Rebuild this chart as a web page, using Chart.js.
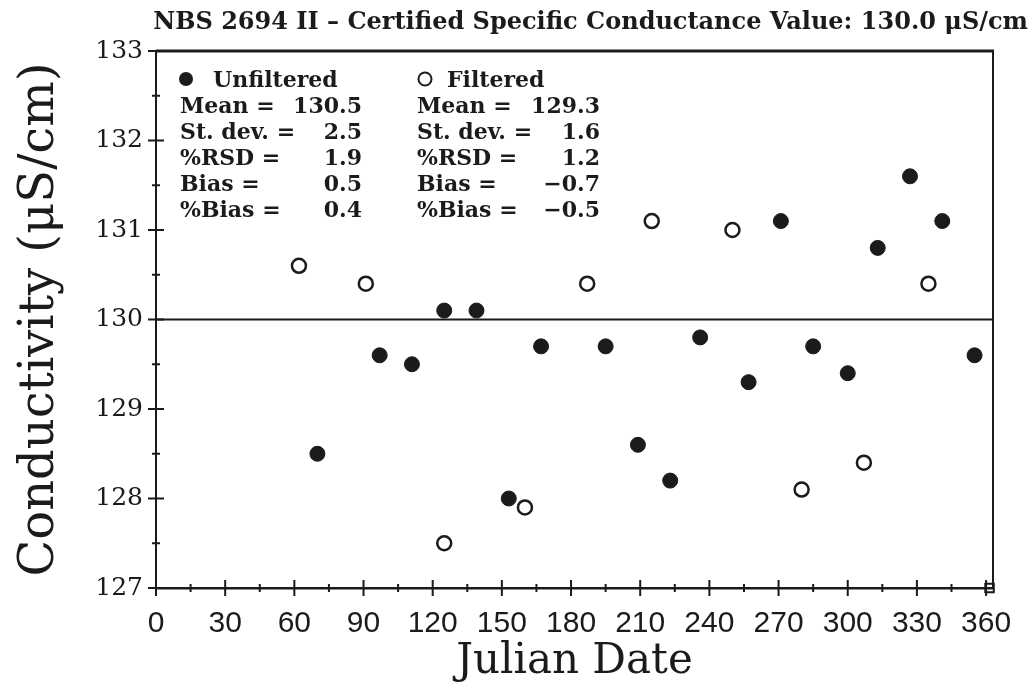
<!DOCTYPE html>
<html>
<head>
<meta charset="utf-8">
<script src="https://cdn.jsdelivr.net/npm/chart.js@4.4.1/dist/chart.umd.min.js"></script>
<style>
    html, body { margin: 0; padding: 0; background: #fff; }
    #wrap { width: 1032px; height: 690px; }
</style>
</head>
<body>
<div id="wrap"><canvas id="chart" width="1032" height="690"></canvas></div>
<script>
// Readings taken off the plot: Julian date vs. conductivity (uS/cm)
const unfilteredDays = [70, 97, 111, 125, 139, 153, 167, 195, 209, 223, 236, 257, 271, 285, 300, 313, 327, 341, 355];
const unfilteredValues = [128.5, 129.6, 129.5, 130.1, 130.1, 128.0, 129.7, 129.7, 128.6, 128.2, 129.8, 129.3, 131.1, 129.7, 129.4, 130.8, 131.6, 131.1, 129.6];

const filteredDays = [62, 91, 125, 160, 187, 215, 250, 280, 307, 335];
const filteredValues = [130.6, 130.4, 127.5, 127.9, 130.4, 131.1, 131.0, 128.1, 128.4, 130.4];

// stray square marker sitting in the lower right corner
const endMarkerDays = [361.5];
const endMarkerValues = [127];

const certifiedValue = 130.0;

const xTicks = [0, 30, 60, 90, 120, 150, 180, 210, 240, 270, 300, 330, 360];
const xMax = 363; // the box runs a little past the last tick
const yTicks = [127, 128, 129, 130, 131, 132, 133];

const unfilteredStats = [['Mean =', '130.5'], ['St. dev. =', '2.5'], ['%RSD =', '1.9'], ['Bias =', '0.5'], ['%Bias =', '0.4']];
const filteredStats = [['Mean =', '129.3'], ['St. dev. =', '1.6'], ['%RSD =', '1.2'], ['Bias =', '\u22120.7'], ['%Bias =', '\u22120.5']];

const chartTitle = 'NBS 2694 II \u2013 Certified Specific Conductance Value: 130.0 \u03bcS/cm';

const INK = '#1b1b1b';
const SERIF = '"DejaVu Serif", "Liberation Serif", serif';
const SANS = '"Liberation Sans", Arial, sans-serif';

function toPoints(xs, ys) {
    return xs.map((x, i) => ({ x: x, y: ys[i] }));
}

// frame, crossing ticks and minor ticks
const frameTicks = {
    id: 'frameTicks',
    afterDraw(chart) {
        const ctx = chart.ctx;
        const area = chart.chartArea;
        const xs = chart.scales.x;
        const ys = chart.scales.y;
        ctx.save();
        ctx.strokeStyle = INK;
        ctx.lineCap = 'butt';

        // top and right of the box
        ctx.lineWidth = 3;
        ctx.beginPath();
        ctx.moveTo(area.left, area.top);
        ctx.lineTo(area.right + 1, area.top);
        ctx.stroke();
        ctx.lineWidth = 2;
        ctx.beginPath();
        ctx.moveTo(area.right, area.top);
        ctx.lineTo(area.right, area.bottom);
        ctx.stroke();

        ctx.lineWidth = 2;
        yTicks.forEach((v, i) => {
            const py = ys.getPixelForValue(v);
            ctx.beginPath();
            ctx.moveTo(area.left - 8, py);
            ctx.lineTo(area.left + 8, py);
            ctx.stroke();
            if (i < yTicks.length - 1) {
                const my = ys.getPixelForValue((v + yTicks[i + 1]) / 2);
                ctx.beginPath();
                ctx.moveTo(area.left - 4, my);
                ctx.lineTo(area.left + 4, my);
                ctx.stroke();
            }
        });
        xTicks.forEach((v, i) => {
            const px = xs.getPixelForValue(v);
            ctx.beginPath();
            ctx.moveTo(px, area.bottom - 8);
            ctx.lineTo(px, area.bottom + 8);
            ctx.stroke();
            if (i < xTicks.length - 1) {
                const mx = xs.getPixelForValue((v + xTicks[i + 1]) / 2);
                ctx.beginPath();
                ctx.moveTo(mx, area.bottom - 4);
                ctx.lineTo(mx, area.bottom + 4);
                ctx.stroke();
            }
        });
        ctx.restore();
    }
};

// the stats block in the upper left + the title line
const statsText = {
    id: 'statsText',
    afterDraw(chart) {
        const ctx = chart.ctx;
        const area = chart.chartArea;
        ctx.save();
        ctx.fillStyle = INK;
        ctx.strokeStyle = INK;
        ctx.textBaseline = 'alphabetic';

        // title
        ctx.font = 'bold 24px ' + SERIF;
        ctx.textAlign = 'right';
        ctx.fillText(chartTitle, chart.width - 4, 29);

        ctx.font = 'bold 22px ' + SERIF;
        const lineH = 26;
        const base = area.top + 36;
        const columns = [
            { x: area.left + 24, valueX: area.left + 206, name: 'Unfiltered', filled: true, rows: unfilteredStats },
            { x: area.left + 261, valueX: area.left + 444, name: 'Filtered', filled: false, rows: filteredStats }
        ];
        columns.forEach(col => {
            ctx.beginPath();
            if (col.filled) {
                ctx.arc(col.x + 6, base - 8, 7, 0, Math.PI * 2);
                ctx.fill();
            } else {
                ctx.arc(col.x + 8, base - 8, 6.5, 0, Math.PI * 2);
                ctx.lineWidth = 2;
                ctx.stroke();
            }
            ctx.textAlign = 'left';
            ctx.fillText(col.name, col.x + (col.filled ? 33 : 30), base);
            col.rows.forEach((row, i) => {
                const y = base + (i + 1) * lineH;
                ctx.textAlign = 'left';
                ctx.fillText(row[0], col.x, y);
                ctx.textAlign = 'right';
                ctx.fillText(row[1], col.valueX, y);
            });
        });
        ctx.restore();
    }
};

const chart = new Chart(document.getElementById('chart'), {
    type: 'scatter',
    data: {
        datasets: [
            {
                type: 'line',
                label: 'Certified value',
                data: [{ x: xTicks[0], y: certifiedValue }, { x: xMax, y: certifiedValue }],
                borderColor: INK,
                borderWidth: 2,
                pointRadius: 0
            },
            {
                label: 'Unfiltered',
                data: toPoints(unfilteredDays, unfilteredValues),
                backgroundColor: INK,
                borderColor: INK,
                borderWidth: 1,
                pointRadius: 7.5
            },
            {
                label: 'Filtered',
                data: toPoints(filteredDays, filteredValues),
                backgroundColor: '#fff',
                borderColor: INK,
                borderWidth: 2.5,
                pointRadius: 7
            },
            {
                label: 'End',
                data: toPoints(endMarkerDays, endMarkerValues),
                pointStyle: 'rect',
                backgroundColor: 'rgba(255,255,255,0)',
                borderColor: INK,
                borderWidth: 2,
                pointRadius: 6,
                clip: false
            }
        ]
    },
    options: {
        responsive: false,
        animation: false,
        devicePixelRatio: 1,
        layout: {
            padding: { top: 51, right: 39, bottom: 0, left: 0 }
        },
        plugins: {
            legend: { display: false },
            tooltip: { enabled: false }
        },
        scales: {
            x: {
                type: 'linear',
                min: xTicks[0],
                max: xMax,
                afterBuildTicks: s => { s.ticks = xTicks.map(v => ({ value: v })); },
                afterFit: s => { s.height = 102; },
                grid: { display: false, drawTicks: false },
                border: { display: true, color: INK, width: 2.5 },
                ticks: {
                    color: INK,
                    padding: 18,
                    maxRotation: 0,
                    autoSkip: false,
                    font: { family: SANS, size: 30 }
                },
                title: {
                    display: true,
                    text: 'Julian Date',
                    color: INK,
                    font: { family: SERIF, size: 42 },
                    padding: { top: 0, bottom: 3 }
                }
            },
            y: {
                type: 'linear',
                min: yTicks[0],
                max: yTicks[yTicks.length - 1],
                afterBuildTicks: s => { s.ticks = yTicks.map(v => ({ value: v })); },
                afterFit: s => { s.width = 156; },
                grid: { display: false, drawTicks: false },
                border: { display: true, color: INK, width: 2 },
                ticks: {
                    color: INK,
                    padding: 13,
                    font: { family: SERIF, size: 25 }
                },
                title: {
                    display: true,
                    text: 'Conductivity (\u03bcS/cm)',
                    color: INK,
                    font: { family: SERIF, size: 48 },
                    padding: { top: 12, bottom: 0 }
                }
            }
        }
    },
    plugins: [frameTicks, statsText]
});
</script>
</body>
</html>
